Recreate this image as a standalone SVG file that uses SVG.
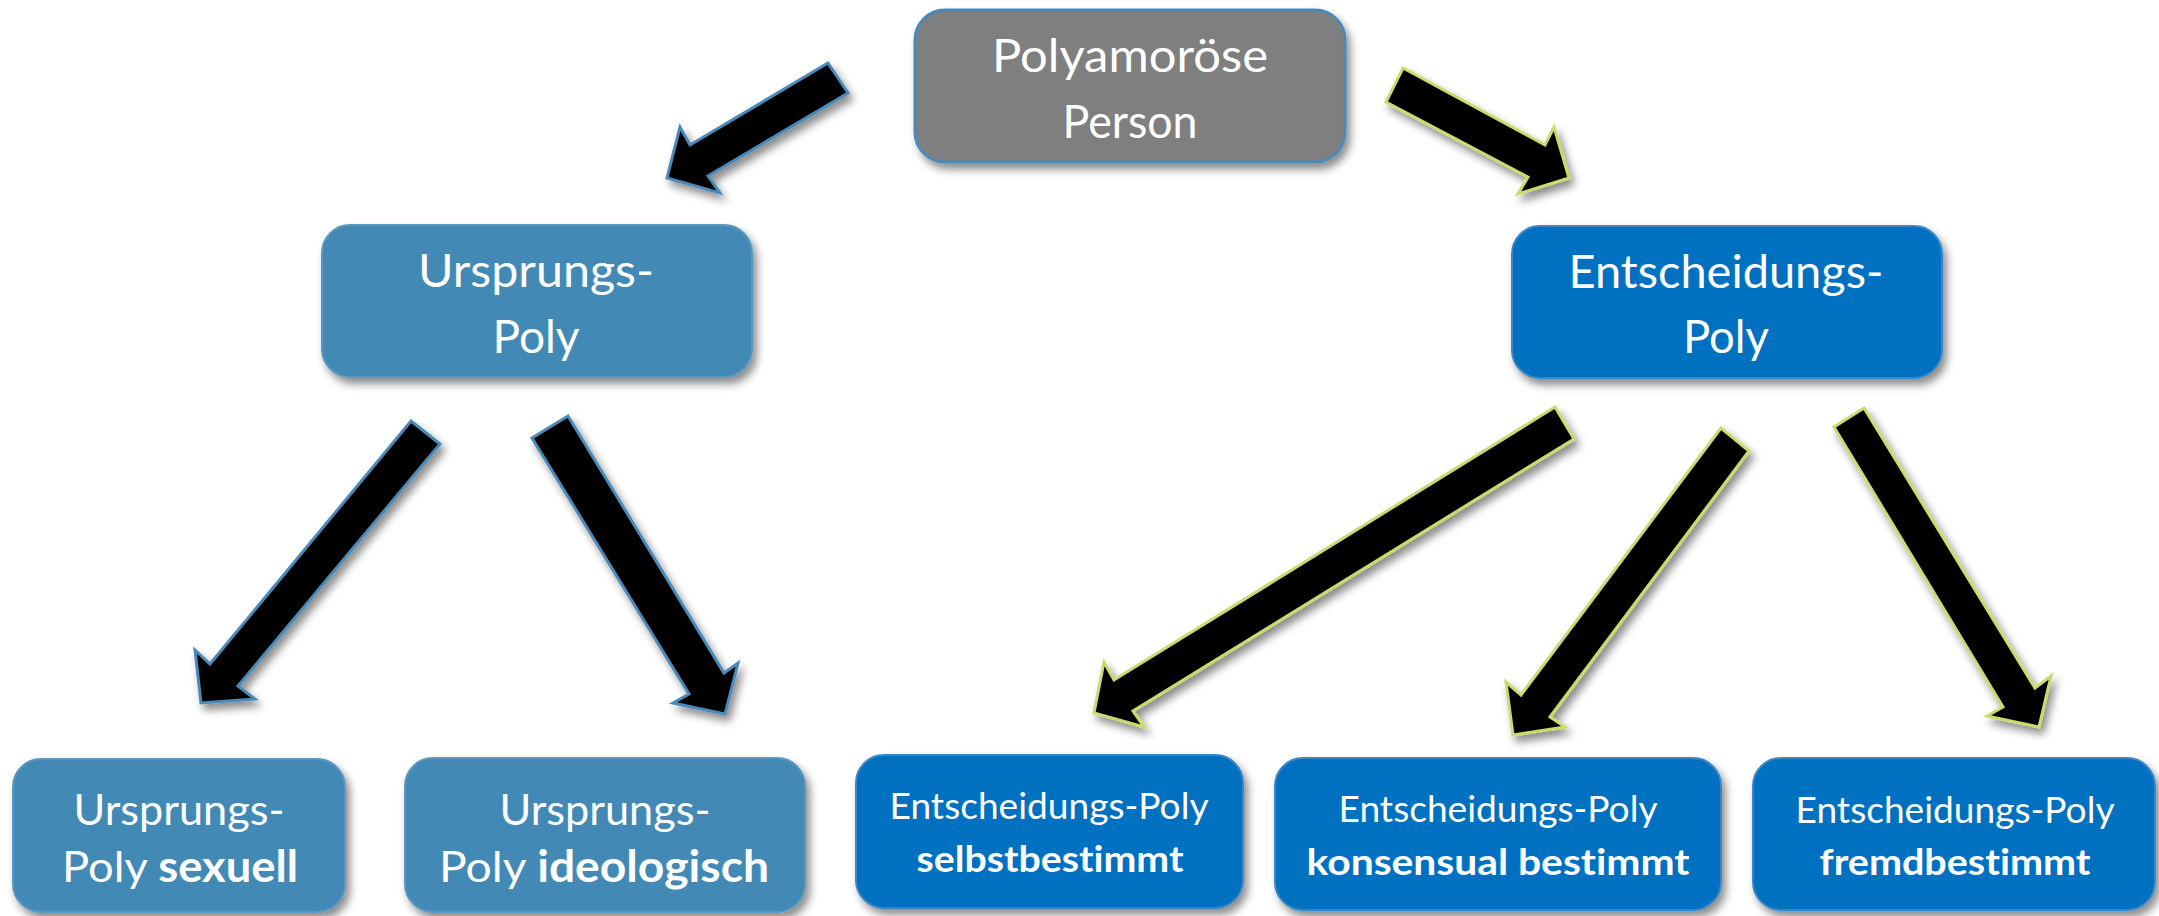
<svg xmlns="http://www.w3.org/2000/svg" width="2159" height="916" viewBox="0 0 2159 916">
<defs>
<filter id="sh" x="-20%" y="-20%" width="140%" height="140%">
<feDropShadow dx="4" dy="6" stdDeviation="4" flood-color="#000" flood-opacity="0.45"/>
</filter>
<style>
.t{font-family:Lato,"Open Sans","Liberation Sans",sans-serif;fill:#fff;text-anchor:middle;font-variant-ligatures:none}
.b{font-weight:bold}
.gray{fill:#7f7f7f;stroke:#4a8ab8;stroke-width:3}
.ur{fill:#438ab5;stroke:#5b97bf;stroke-width:2}
.en{fill:#0070c0;stroke:#3a86c4;stroke-width:2}
.abl{fill:#000;stroke:#4a8ab8;stroke-width:3;stroke-linejoin:miter}
.agr{fill:#000;stroke:#c8dc6c;stroke-width:3;stroke-linejoin:miter}
</style>
</defs>
<rect width="2159" height="916" fill="#fff"/>
<g id="connectors" filter="url(#sh)">
<polygon class="abl" points="828,63 848,93 708,176 720,193 667,178 680,127 690,145"/>
<polygon class="agr" points="1403,68 1545,145 1554,127 1569,178 1518,194 1528,177 1386,102"/>
<polygon class="abl" points="411,421 440,444 238,686 255,699 201,703 195,650 210,664"/>
<polygon class="abl" points="568,416 724,673 738,663 725,714 673,703 689,694 532,438"/>
<polygon class="agr" points="1555,407 1574,439 1133,711 1144,727 1094,713 1104,662 1114,680"/>
<polygon class="agr" points="1721,428 1749,451 1550,717 1565,727 1513,735 1506,682 1521,695"/>
<polygon class="agr" points="1864,408 2035,688 2051,676 2039,727 1987,716 2003,707 1834,427"/>
</g>
<g id="n-person">
<rect class="gray" x="915" y="10" width="430" height="152" rx="30" filter="url(#sh)"/>
<text class="t" x="1130" y="72" font-size="46" textLength="276" lengthAdjust="spacingAndGlyphs">Polyamoröse</text>
<text class="t" x="1130" y="138" font-size="46" textLength="135" lengthAdjust="spacingAndGlyphs">Person</text>
</g>
<g id="n-ursprung">
<rect class="ur" x="322" y="225" width="430" height="152" rx="28" filter="url(#sh)"/>
<text class="t" x="536" y="287" font-size="47" textLength="236" lengthAdjust="spacingAndGlyphs">Ursprungs-</text>
<text class="t" x="536" y="353" font-size="47" textLength="87" lengthAdjust="spacingAndGlyphs">Poly</text>
</g>
<g id="n-entscheidung">
<rect class="en" x="1512" y="226" width="430" height="152" rx="28" filter="url(#sh)"/>
<text class="t" x="1726" y="288" font-size="47" textLength="315" lengthAdjust="spacingAndGlyphs">Entscheidungs-</text>
<text class="t" x="1726" y="353" font-size="47" textLength="86" lengthAdjust="spacingAndGlyphs">Poly</text>
</g>
<g id="n-sexuell">
<rect class="ur" x="13" y="759" width="332" height="153" rx="28" filter="url(#sh)"/>
<text class="t" x="179" y="825" font-size="43" textLength="211" lengthAdjust="spacingAndGlyphs">Ursprungs-</text>
<text class="t" x="180" y="882" font-size="43" textLength="236" lengthAdjust="spacingAndGlyphs">Poly <tspan class="b">sexuell</tspan></text>
</g>
<g id="n-ideologisch">
<rect class="ur" x="405" y="758" width="400" height="154" rx="28" filter="url(#sh)"/>
<text class="t" x="605" y="825" font-size="43" textLength="211" lengthAdjust="spacingAndGlyphs">Ursprungs-</text>
<text class="t" x="604" y="882" font-size="43" textLength="330" lengthAdjust="spacingAndGlyphs">Poly <tspan class="b">ideologisch</tspan></text>
</g>
<g id="n-selbst">
<rect class="en" x="856" y="755" width="387" height="153" rx="28" filter="url(#sh)"/>
<text class="t" x="1049" y="819" font-size="36" textLength="319" lengthAdjust="spacingAndGlyphs">Entscheidungs-Poly</text>
<text class="t b" x="1050" y="872" font-size="36" textLength="267" lengthAdjust="spacingAndGlyphs">selbstbestimmt</text>
</g>
<g id="n-konsensual">
<rect class="en" x="1275" y="758" width="446" height="152" rx="28" filter="url(#sh)"/>
<text class="t" x="1498" y="822" font-size="36" textLength="319" lengthAdjust="spacingAndGlyphs">Entscheidungs-Poly</text>
<text class="t b" x="1498" y="875" font-size="36" textLength="383" lengthAdjust="spacingAndGlyphs">konsensual bestimmt</text>
</g>
<g id="n-fremd">
<rect class="en" x="1753" y="758" width="402" height="152" rx="28" filter="url(#sh)"/>
<text class="t" x="1955" y="823" font-size="36" textLength="319" lengthAdjust="spacingAndGlyphs">Entscheidungs-Poly</text>
<text class="t b" x="1955" y="875" font-size="36" textLength="271" lengthAdjust="spacingAndGlyphs">fremdbestimmt</text>
</g>
</svg>
